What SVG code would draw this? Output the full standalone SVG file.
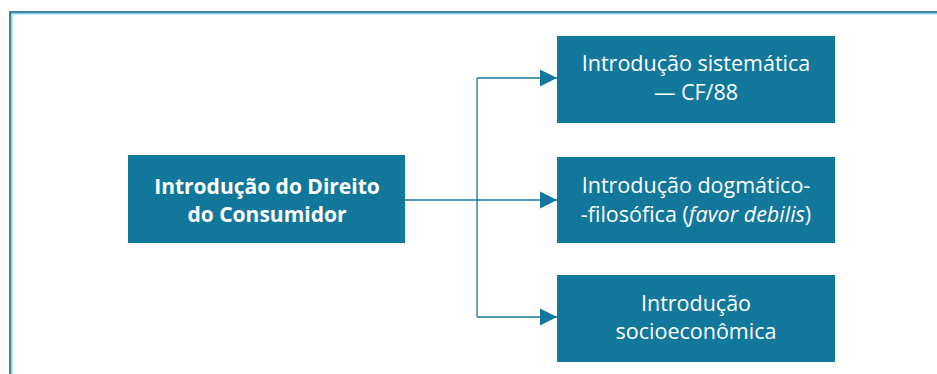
<svg xmlns="http://www.w3.org/2000/svg" width="937" height="374" viewBox="0 0 937 374">
<defs>
<style>
.box{fill:#11789c}
.t{font-family:"Open Sans","Noto Sans","Liberation Sans",sans-serif;font-size:21.5px;fill:#ffffff;text-anchor:middle}
.b{font-weight:bold;font-size:21px}
.c{stroke:#11789c;stroke-width:1.3;fill:none}
</style>
<marker id="ah" viewBox="0 0 10 10" refX="10" refY="5" markerWidth="17" markerHeight="18" markerUnits="userSpaceOnUse" orient="auto">
<path d="M0,0 L10,5 L0,10 Z" fill="#11789c"/>
</marker>
</defs>
<rect width="937" height="374" fill="#ffffff"/>
<path d="M11,374 V13 H937" fill="none" stroke="#8fd0e6" stroke-width="3"/>
<path d="M10,374 V12 H937" fill="none" stroke="#1d6a86" stroke-width="1.5"/>
<g id="connectors">
<path class="c" d="M405,200 H557" marker-end="url(#ah)"/>
<path class="c" d="M477,78 V317"/>
<path class="c" d="M477,78 H557" marker-end="url(#ah)"/>
<path class="c" d="M477,317 H557" marker-end="url(#ah)"/>
</g>
<g id="root">
<rect class="box" x="128" y="155" width="277" height="88"/>
<text class="t b" x="267" y="194">Introdução do Direito</text>
<text class="t b" x="267" y="222">do Consumidor</text>
</g>
<g id="n1">
<rect class="box" x="557" y="36" width="278" height="87"/>
<text class="t" x="696" y="71">Introdução sistemática</text>
<text class="t" x="696" y="100">— CF/88</text>
</g>
<g id="n2">
<rect class="box" x="557" y="157" width="278" height="86"/>
<text class="t" x="696" y="193">Introdução dogmático-</text>
<text class="t" x="696" y="222">-filosófica (<tspan font-style="italic">favor debilis</tspan>)</text>
</g>
<g id="n3">
<rect class="box" x="557" y="275" width="278" height="87"/>
<text class="t" x="696" y="311">Introdução</text>
<text class="t" x="696" y="339">socioeconômica</text>
</g>
</svg>
